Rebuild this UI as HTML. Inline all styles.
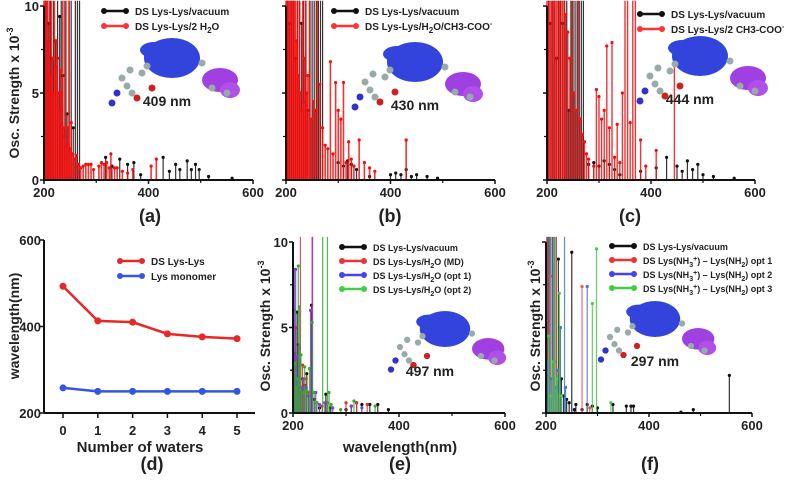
<!DOCTYPE html>
<html><head><meta charset="utf-8"><style>
body{margin:0;background:#fff}
svg{display:block;font-family:"Liberation Sans",sans-serif;font-weight:bold}
</style></head><body>
<svg id="fig" width="793" height="482" viewBox="0 0 793 482"></svg>
<script>
// ---- data ----
const aVacX=[203,206,209,212,215,218,222,226,230,233,236,240,244,248,252,256,260,264,268,318,330,345,360,372,385,428,440,452,460,474,482,490,497,515,560];
const aVacY=[12,12,9,12,7,12,8,12,9.4,12,6,12,3.8,12,12,3,12,12,12,1.3,0.8,1.2,0.9,1.0,0.3,1.3,0.5,0.9,0.6,1.1,0.6,0.9,0.6,0.2,0.1];
const aWatX=[200,202,204,206,208,210,212,214,216,218,220,222,224,226,228,230,232,234,236,238,240,242,244,246,248,250,252,255,258,262,266,270,275,280,285,290,295,305,310,315,320,325,328,335,340,350,360,370,405,415];
const aWatY=[12,12,12,12,8,12,6,12,7,5,12,6.5,8,7,5,4,6.3,5,12,3,2.5,12,2,3,12,1.8,3.3,1.5,1.2,1.4,0.9,0.7,0.8,0.9,0.9,0.9,0.6,0.8,1.0,0.9,1.0,0.7,1.5,0.7,0.7,0.5,0.4,0.6,0.8,1.2];
const bVacX=[203,206,210,214,218,222,226,230,234,238,242,246,250,254,258,262,266,270,300,310,318,325,335,360,400,410,420,430,440,450,470,490];
const bVacY=[12,9,12,12,7,12,12,9,12,12,4,12,12,12,12,12,12,12,1.0,0.8,1.1,0.9,0.6,0.2,0.3,0.4,0.3,0.6,0.2,0.3,0.2,0.1];
const bMixX=[200,202,204,206,208,210,212,214,216,218,220,222,224,226,228,230,232,234,236,238,240,242,245,248,252,256,260,265,270,275,280,285,290,295,300,305,310,315,320,325,330,340,350,360,370,430];
const bMixY=[12,12,12,12,12,12,12,12,12,12,8,12,6,12,5,4,12,4.5,7,12,5,6,12,3.5,4.5,4,12,5.5,3,2,1.8,6.8,1.5,5.6,4,3.5,5.6,1,2.2,1.2,0.8,2.3,1.0,0.7,0.5,2.3];
const cVacX=[203,206,210,214,218,222,226,230,234,238,242,246,250,254,258,262,266,270,280,290,300,310,320,330,340,380,410,430,450,460,470,480,490,500,520,560];
const cVacY=[12,9,12,12,7,12,12,9,12,12,4,12,12,12,12,12,12,12,0.9,1.0,0.8,1.1,0.9,0.6,0.3,0.5,0.7,1.3,0.8,0.5,1.1,0.6,0.9,0.3,0.2,0.1];
const cAcX=[200,203,206,209,212,215,218,221,224,227,230,233,236,240,244,248,252,256,260,264,268,272,276,280,290,295,300,305,310,315,320,325,330,335,340,345,350,355,360,365,370,380,390,410,445];
const cAcY=[12,12,12,12,12,12,12,12,12,12,12,12,9.5,8.5,7,12,5,4,12,3.5,2.6,2.2,1.5,1.2,0.8,5.2,4.8,3.5,4.0,7.7,3.0,7.9,1.3,3.2,1.0,5.0,12,12,3.3,12,12,2.3,0.8,1.7,7.3];
const dWaters=[0,1,2,3,4,5];
const dLysLys=[493,413,410,383,376,372];
const dMono=[258,250,250,250,250,250];
const eVacX=[201,203,205,208,210,212,214,218,222,226,230,235,240,250,262,270,300,310,320,330,345,360,380];
const eVacY=[6,3.5,2,5.9,4,1.5,1.2,2,1.6,2.3,1,6.3,0.8,0.3,1.1,0.3,0.2,0.4,0.6,0.5,0.5,0.5,0.2];
const eMDX=[202,205,208,212,214,218,221,225,230,236,245,255,265,300,320,340];
const eMDY=[3,5,1.8,3,12,2.8,1.5,2,1.2,12,0.6,0.4,0.6,0.6,0.6,0.5];
const eO1X=[200,203,205,207,209,212,216,220,225,229,233,237,243,250,260,275,310,330];
const eO1Y=[2.5,8.4,8.4,3.3,2,3.8,1.5,2,1.5,1,6,12,1.2,0.5,0.6,0.3,0.4,0.3];
const eO2X=[201,204,206,208,210,212,215,219,222,226,231,236,240,245,256,265,268,272,290,315,355];
const eO2Y=[5.9,2.9,1.5,2,8.6,6.2,3.4,1.2,2.7,1.3,2.6,5.3,1.2,0.6,12,12,1.2,0.5,0.2,0.7,0.4];
const fVacX=[202,205,208,212,216,220,224,227,230,234,240,245,250,255,258,270,280,290,300,330,356,365,370,462,486,556];
const fVacY=[12,12,12,12,12,12,9,5,2,1,0.8,0.6,9.4,0.2,0.5,0.2,0.5,0.4,0.3,0.5,0.4,0.4,0.4,0.05,0.2,2.2];
const fO1X=[204,208,212,216,220,225,270,285];
const fO1Y=[12,8,2,3,12,1,7.4,0.3];
const fO2X=[203,207,211,215,219,223,228,236,238,280];
const fO2Y=[3,12,2,12,1.5,2.5,5,12,1.5,7.4];
const fO3X=[205,209,213,217,221,226,230,290,298,326];
const fO3Y=[4.5,1,3,12,2,7,1,6.4,9.6,0.6];
const specTicks=[200,400,600];
const yTicks10=[0,5,10];

const svg=document.getElementById('fig');
const NS='http://www.w3.org/2000/svg';
function mk(tag,attrs,parent){const e=document.createElementNS(NS,tag);for(const k in attrs)e.setAttribute(k,attrs[k]);(parent||svg).appendChild(e);return e;}
function txt(x,y,s,size,anchor,parent){const t=mk('text',{x:x,y:y,'font-size':size,'text-anchor':anchor||'middle',fill:'#222'},parent);t.innerHTML=s;return t;}

function panel(name,x0,x1,y0,y1,series,opts){
  const g=mk('g',{});
  
  
  const xs=v=>x0+(v-200)/400*(x1-x0);
  const ys=v=>y1-Math.min(v,10.3)/10*(y1-y0);
  series.forEach(s=>{
    const sg=mk('g',{},g);
    
    
    s.x.forEach((xv,i)=>{
      const px=xs(xv),py=ys(s.y[i]);
      const ln=mk('line',{x1:px,x2:px,y1:y1,y2:py,stroke:s.c,'stroke-width':s.w||1.2,'stroke-opacity':0.85},sg);
      
      
      if(s.y[i]<10){const d=mk('circle',{cx:px,cy:py,r:1.6,fill:s.c},sg);
        
        }
    });
  });
  mk('line',{x1:x0,x2:x0,y1:y0,y2:y1,stroke:'#111','stroke-width':2},g);
  mk('line',{x1:x0,x2:x1,y1:y1,y2:y1,stroke:'#111','stroke-width':2},g);
  specTicks.forEach(t=>{mk('line',{x1:xs(t),x2:xs(t),y1:y1,y2:y1+4,stroke:'#111','stroke-width':1.5},g);
    const l=txt(xs(t),y1+17,t,13,'middle',g);
    
    });
  [300,500].forEach(t=>mk('line',{x1:xs(t),x2:xs(t),y1:y1,y2:y1+3,stroke:'#111','stroke-width':1.2},g));
  yTicks10.forEach(t=>{mk('line',{x1:x0-4,x2:x0,y1:ys(t),y2:ys(t),stroke:'#111','stroke-width':1.5},g);
    if(opts.ylab){const l=txt(x0-5,ys(t)+5,t,13,'end',g);
      
      }});
  [2.5,7.5].forEach(t=>mk('line',{x1:x0-3,x2:x0,y1:ys(t),y2:ys(t),stroke:'#111','stroke-width':1.2},g));
  return g;
}
function legend(x,y,items,size){
  items.forEach((it,i)=>{
    const lg=mk('g',{});
    
    
    const yy=y+i*(size+5);
    mk('line',{x1:x,x2:x+26,y1:yy,y2:yy,stroke:it.c,'stroke-width':2.5},lg);
    mk('circle',{cx:x+2,cy:yy,r:3,fill:it.c},lg);mk('circle',{cx:x+24,cy:yy,r:3,fill:it.c},lg);
    txt(x+33,yy+4,it.t,size,'start',lg);
  });
}
function molecule(cx,cy,s,lab,name){
  const g=mk('g',{transform:`translate(${cx},${cy}) scale(${s})`});
  
  
  const atoms=[[-50,10,'#9aa'],[-45,18,'#9aa'],[-55,25,'#33c'],[-40,25,'#9aa'],[-35,30,'#c22'],[-60,35,'#33c'],[-30,5,'#9aa'],[-25,-2,'#9aa'],[-42,2,'#9aa'],[-20,20,'#c22'],[30,-5,'#9aa'],[40,20,'#9aa'],[55,25,'#9aa']];
  mk('ellipse',{cx:0,cy:-10,rx:28,ry:20,fill:'#3344dd'},g);
  mk('ellipse',{cx:-18,cy:-18,rx:14,ry:8,fill:'#3344dd'},g);
  mk('ellipse',{cx:48,cy:12,rx:18,ry:12,fill:'#a040e0'},g);
  mk('ellipse',{cx:58,cy:22,rx:10,ry:8,fill:'#b050e8'},g);
  atoms.forEach(a=>mk('circle',{cx:a[0],cy:a[1],r:3.5,fill:a[2]},g));
  const t=txt(cx+(lab[1]||0),cy+38,lab[0],14,'middle');
  
  
}
panel('panel-a-spectrum',44,253,6,180,[{name:'series-vacuum',x:aVacX,y:aVacY,c:'#111'},{name:'series-2-water',x:aWatX,y:aWatY,c:'#f01010',w:1.6}],{ylab:true});
legend(102,11,[{c:'#111',t:'DS Lys-Lys/vacuum'},{c:'#f33',t:'DS Lys-Lys/2 H<tspan font-size="8" dy="3">2</tspan><tspan dy="-3">O</tspan>'}],10);
molecule(172,68,1.0,['409 nm',-5],'inset-molecule-a');
panel('panel-b-spectrum',286,495,6,180,[{name:'series-vacuum',x:bVacX,y:bVacY,c:'#111'},{name:'series-water-acetate',x:bMixX,y:bMixY,c:'#f01010',w:1.6}],{ylab:false});
legend(332,11,[{c:'#111',t:'DS Lys-Lys/vacuum'},{c:'#f33',t:'DS Lys-Lys/H<tspan font-size="8" dy="3">2</tspan><tspan dy="-3">O/CH3-COO</tspan><tspan font-size="7" dy="-4">-</tspan>'}],10);
molecule(415,72,1.0,['430 nm',0],'inset-molecule-b');
panel('panel-c-spectrum',547,755,6,180,[{name:'series-vacuum',x:cVacX,y:cVacY,c:'#111'},{name:'series-2-acetate',x:cAcX,y:cAcY,c:'#f01010',w:1.4}],{ylab:false});
legend(638,14,[{c:'#111',t:'DS Lys-Lys/vacuum'},{c:'#f33',t:'DS Lys-Lys/2 CH3-COO<tspan font-size="7" dy="-4">-</tspan>'}],10);
molecule(700,66,1.0,['444 nm',-10],'inset-molecule-c');
[[14,93],[265,326],[535,326]].forEach(p=>{
  const t=txt(p[0],p[1],'Osc. Strength x 10<tspan font-size="9" dy="-6">-3</tspan>',14,'middle');
  t.setAttribute('transform',`rotate(-90 ${p[0]} ${p[1]}) translate(0 5)`);
  
  
});
panel('panel-e-spectrum',293,505,242,413,[{name:'series-vacuum',x:eVacX,y:eVacY,c:'#111'},{name:'series-md',x:eMDX,y:eMDY,c:'#d33'},{name:'series-opt1',x:eO1X,y:eO1Y,c:'#8040d0'},{name:'series-opt2',x:eO2X,y:eO2Y,c:'#3a3'}],{ylab:true});
legend(340,247,[{c:'#111',t:'DS Lys-Lys/vacuum'},{c:'#e33',t:'DS Lys-Lys/H<tspan font-size="7" dy="3">2</tspan><tspan dy="-3">O (MD)</tspan>'},{c:'#44e',t:'DS Lys-Lys/H<tspan font-size="7" dy="3">2</tspan><tspan dy="-3">O (opt 1)</tspan>'},{c:'#4c4',t:'DS Lys-Lys/H<tspan font-size="7" dy="3">2</tspan><tspan dy="-3">O (opt 2)</tspan>'}],9);
molecule(445,338,0.9,['497 nm',-15],'inset-molecule-e');
panel('panel-f-spectrum',546,752,242,413,[{name:'series-vacuum',x:fVacX,y:fVacY,c:'#111'},{name:'series-opt1',x:fO1X,y:fO1Y,c:'#e55'},{name:'series-opt2',x:fO2X,y:fO2Y,c:'#47b'},{name:'series-opt3',x:fO3X,y:fO3Y,c:'#4c4'}],{ylab:false});
legend(610,246,[{c:'#111',t:'DS Lys-Lys/vacuum'},{c:'#e33',t:'DS Lys(NH<tspan font-size="7" dy="3">3</tspan><tspan font-size="7" dy="-6">+</tspan><tspan dy="3">) – Lys(NH</tspan><tspan font-size="7" dy="3">2</tspan><tspan dy="-3">) opt 1</tspan>'},{c:'#44e',t:'DS Lys(NH<tspan font-size="7" dy="3">3</tspan><tspan font-size="7" dy="-6">+</tspan><tspan dy="3">) – Lys(NH</tspan><tspan font-size="7" dy="3">2</tspan><tspan dy="-3">) opt 2</tspan>'},{c:'#4c4',t:'DS Lys(NH<tspan font-size="7" dy="3">3</tspan><tspan font-size="7" dy="-6">+</tspan><tspan dy="3">) – Lys(NH</tspan><tspan font-size="7" dy="3">2</tspan><tspan dy="-3">) opt 3</tspan>'}],9);
molecule(655,328,0.9,['297 nm',0],'inset-molecule-f');
(function(){
  const g=mk('g',{});
  const x0=44,x1=255,yt=240,yb=413;
  const xs=v=>63+v*(237-63)/5, ys=v=>yb-(v-200)/400*(yb-yt);
  [[dLysLys,'#e82828','line-ds-lys-lys'],[dMono,'#3355e0','line-lys-monomer']].forEach(s=>{
    const p=mk('polyline',{points:s[0].map((v,i)=>xs(dWaters[i])+','+ys(v)).join(' '),fill:'none',stroke:s[1],'stroke-width':2.5},g);
    
    s[0].forEach((v,i)=>{const c=mk('circle',{cx:xs(dWaters[i]),cy:ys(v),r:3.5,fill:s[1]},g);
      });
  });
  mk('line',{x1:x0,x2:x0,y1:yt,y2:yb,stroke:'#111','stroke-width':2},g);
  mk('line',{x1:x0,x2:x1,y1:yb,y2:yb,stroke:'#111','stroke-width':2},g);
  [200,400,600].forEach(t=>{mk('line',{x1:x0-4,x2:x0,y1:ys(t),y2:ys(t),stroke:'#111','stroke-width':1.5},g);txt(x0-3,ys(t)+5,t,13,'end',g);});
  dWaters.forEach(t=>{mk('line',{x1:xs(t),x2:xs(t),y1:yb,y2:yb+5,stroke:'#111','stroke-width':1.5},g);txt(xs(t),yb+22,t,13,'middle',g);});
  const yt2=txt(14,326,'wavelength(nm)',14,'middle',g);yt2.setAttribute('transform','rotate(-90 14 326) translate(0 5)');
  
  const xt=txt(140,452,'Number of waters',15,'middle',g);
  legend(118,261,[{c:'#e82828',t:'DS Lys-Lys'},{c:'#3355e0',t:'Lys monomer'}],10);
})();
const ex=txt(400,452,'wavelength(nm)',15,'middle');
[['(a)',150,222],['(b)',390,222],['(c)',630,222],['(d)',152,470],['(e)',400,470],['(f)',650,470]].forEach(l=>{
  const t=txt(l[1],l[2],l[0],18,'middle');
  
  
});
</script>
</body></html>
